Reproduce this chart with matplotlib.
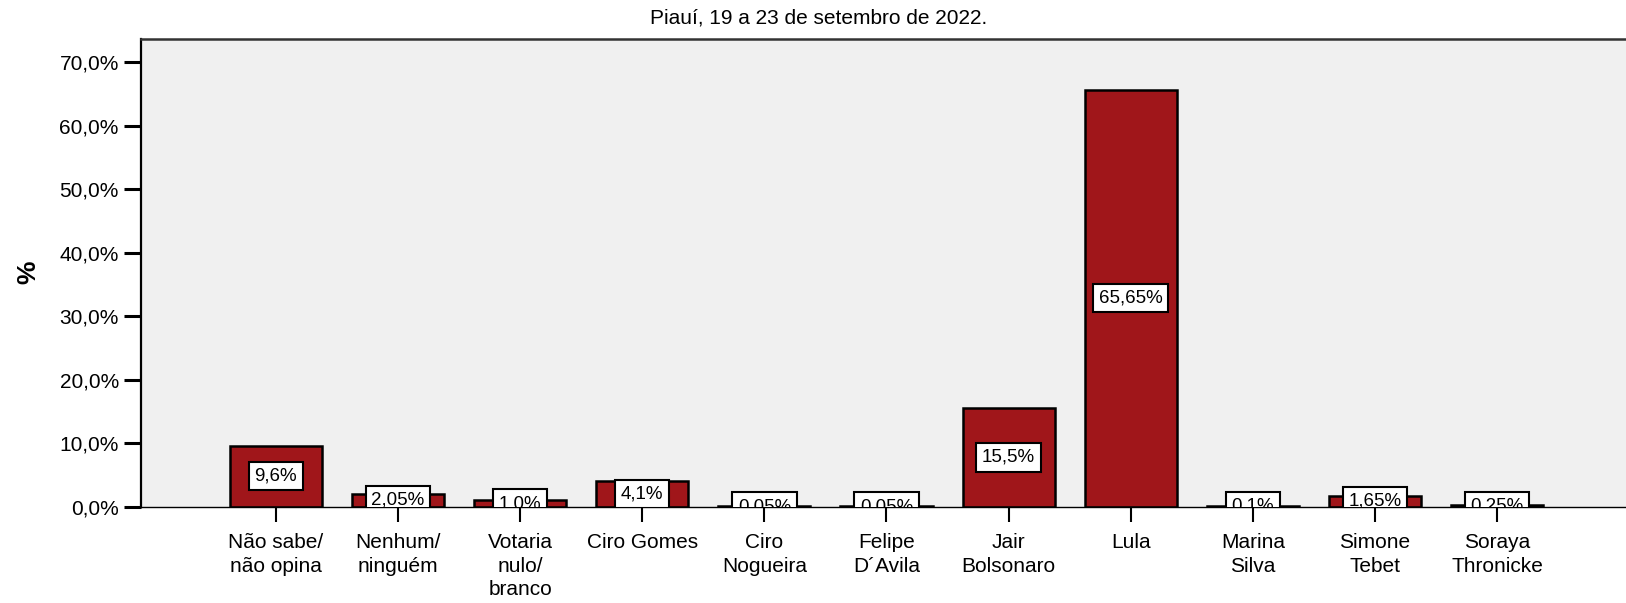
import numpy as np
import matplotlib.pyplot as plt

plt.rcParams['font.family'] = ['Liberation Sans', 'DejaVu Sans']

categories = ['Não sabe/\nnão opina', 'Nenhum/\nninguém', 'Votaria\nnulo/\nbranco',
              'Ciro Gomes', 'Ciro\nNogueira', 'Felipe\nD´Avila', 'Jair\nBolsonaro',
              'Lula', 'Marina\nSilva', 'Simone\nTebet', 'Soraya\nThronicke']
values = [9.6, 2.05, 1.0, 4.1, 0.05, 0.05, 15.5, 65.65, 0.1, 1.65, 0.25]
labels = ['9,6%', '2,05%', '1,0%', '4,1%', '0,05%', '0,05%', '15,5%',
          '65,65%', '0,1%', '1,65%', '0,25%']
yticks = [0, 10, 20, 30, 40, 50, 60, 70]
title = 'Piauí, 19 a 23 de setembro de 2022.'

W, H = 1626, 603
fig = plt.figure(figsize=(W / 100, H / 100), dpi=100)
ax = fig.add_axes([141 / W, 1 - 506.7 / H, 1 - 141 / W, (506.7 - 38.7) / H])
ax.set_facecolor('#f0f0f0')

x = np.arange(len(values))
ax.bar(x, values, width=0.755, color='#a0161a', edgecolor='black', linewidth=1.8, zorder=2)

for xi, v, lab in zip(x, values, labels):
    ax.text(xi, v / 2, lab, ha='center', va='center', fontsize=13.5, zorder=3, clip_on=True,
            bbox=dict(boxstyle='square,pad=0.3', facecolor='white', edgecolor='black', linewidth=1.5))

ax.set_xlim(-1.105, 11.056)
ax.set_ylim(0, 73.7)
ax.set_yticks(yticks)
ax.set_yticklabels([f'{t:.1f}%'.replace('.', ',') for t in yticks], fontsize=15)
ax.set_xticks(x)
ax.set_xticklabels(categories, fontsize=15, linespacing=1.3)
ax.tick_params(axis='y', length=12, width=2.2, pad=4)
ax.tick_params(axis='x', length=11, width=1.5, pad=8)

ax.spines['right'].set_visible(False)
ax.spines['left'].set_linewidth(1.6)
ax.spines['top'].set_linewidth(1.8)
ax.spines['top'].set_color('#333333')
ax.spines['bottom'].set_linewidth(1.0)

fig.text(819 / W, 1 - 18 / H, title, ha='center', va='center', fontsize=15)
fig.text(28 / W, 1 - 272 / H, '%', rotation=90, ha='center', va='center',
         fontsize=19, fontweight='bold')

fig.savefig('out.png')
